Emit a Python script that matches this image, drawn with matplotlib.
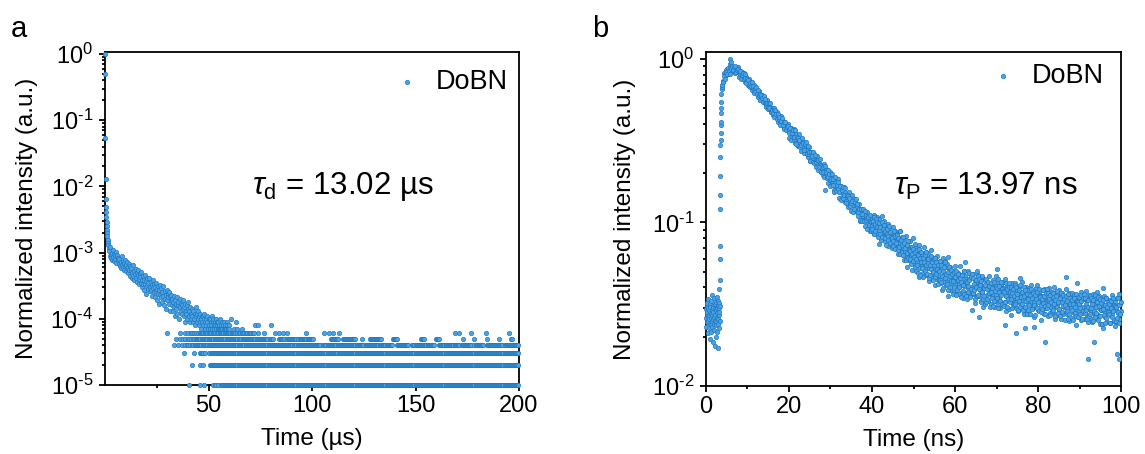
import numpy as np
import matplotlib
matplotlib.use("Agg")
import matplotlib.pyplot as plt
from matplotlib.ticker import FixedLocator, LogLocator, NullFormatter, FuncFormatter

plt.rcParams["font.family"] = ["Liberation Sans", "DejaVu Sans"]
plt.rcParams["mathtext.fontset"] = "custom"
plt.rcParams["mathtext.rm"] = "Liberation Sans"
plt.rcParams["mathtext.it"] = "Liberation Sans:italic"
plt.rcParams["mathtext.bf"] = "Liberation Sans:bold"

FACE = "#4ba2e4"
EDGE = "#1c74bd"

# ===================== panel a : delayed decay (1 count = 1e-5) =====================
a_head_time = [0.0, 0.1, 0.2, 0.3, 0.4, 0.5, 0.6, 0.7, 0.8, 0.9, 1.0, 1.1, 1.2,
               1.35, 1.5, 1.65, 1.8]
a_head_counts = [100000, 50000, 5400, 1300, 650, 490, 410, 340, 290, 250, 220,
                 195, 175, 155, 140, 128, 118]

# channels from 2.0 us, every 0.25 us
a_band_start = 2.0
a_band_step = 0.25
a_band_counts = [
    105, 88, 120, 92, 84, 99, 78, 110, 86, 95, 74, 90, 81, 102, 70, 87, 93, 76, 84, 68,
    80, 62, 71, 58, 88, 66, 60, 74, 55, 69, 63, 77, 52, 66, 58, 72, 49, 61, 67, 54,
    63, 45, 52, 58, 41, 49, 66, 44, 53, 39, 47, 57, 42, 50, 36, 46, 54, 40, 33, 48,
    43, 35, 51, 38, 30, 44, 34, 39, 27, 46, 33, 37, 24, 41, 31, 35, 28, 42, 30, 26,
    36, 27, 32, 22, 38, 29, 25, 33, 21, 30, 26, 35, 19, 28, 31, 24, 27, 17, 32, 23,
    29, 21, 25, 18, 31, 22, 16, 26, 20, 23, 14, 27, 19, 24, 21, 17, 25, 13, 22, 19,
    23, 16, 20, 13, 18, 22, 15, 11, 19, 17, 14, 21, 12, 16, 18, 10, 15, 20, 13, 17,
    16, 12, 19, 14, 11, 15, 9, 17, 13, 12, 16, 10, 14, 18, 11, 13, 9, 15, 12, 10,
    14, 11, 9, 13, 10, 12, 8, 15, 11, 9, 12, 10, 13, 8, 11, 9, 12, 10, 7, 11,
    9, 11, 8, 10, 12, 9, 7, 10, 8, 11, 9, 7, 10, 8, 10, 7, 9, 8, 11, 7,
    9, 10, 8, 7, 9, 8, 7, 10, 8, 9, 7, 9, 7, 8, 10, 7, 8, 7, 9, 7,
    8, 7, 9, 7, 8, 7, 7, 9, 8, 7, 7, 8, 7,
]

a_extra_time = [61.0, 62.5, 63.5, 64.0, 66.0, 72.5, 74.0, 80.0]
a_extra_counts = [10, 7, 9, 7, 7, 8, 8, 8]

# low count levels: one character per 0.5 us channel from 20 us ("1" = point present)
a_mask_start = 20.0
a_mask_step = 0.5
a_levels = [1, 2, 3, 4, 5, 6]
a_mask_1 = ("0000000000 0000000000 0000000000 0000000000"
            "0100000000 0010001000 0000101101 0011111111"
            "1111111111 1111111111 1111111111 1111111111"
            "1111111111 1111111111 1111111111 1111111111"
            "1111111111 1111111111 1111111111 1111111111"
            "1111111111 1111111111 1111111111 1111111111"
            "1111111111 1111111111 1111111111 1111111111"
            "1111111111 1111111111 1111111111 1111111111"
            "1111111111 1111111111 1111111111 1111111111")
a_mask_2 = ("0000000000 0000000000 0000000000 0000000000"
            "0000100000 0010010000 0111111111 1111111111"
            "1111111111 1111111111 1111111111 1111111111"
            "1111111111 1111111111 1111111111 1111111111"
            "1111111111 1111111111 1111111111 1111111111"
            "1111111111 1111111111 1111111111 1111111111"
            "1111111111 1111111111 1111111111 1111111111"
            "1111111111 1111111111 1111111111 1111111111"
            "1111111111 1111111111 1111111111 1111111111")
a_mask_3 = ("0000000000 0000000000 0000000000 0000001000"
            "0000001000 0011110100 1011111111 1111111111"
            "1111111111 1111111111 1111111111 1111111111"
            "1111111111 1111111111 1111111111 1111111111"
            "1111111111 1111111111 1111101111 1111111111"
            "1111111111 1111111111 1111111111 1111111111"
            "1111111111 1111111111 1111111111 1111111111"
            "1111111111 1111111111 1111111111 1111111111"
            "1111111111 1111111111 1111111111 1111111111")
a_mask_4 = ("0000000000 0000000000 0000000100 0100100101"
            "1010110111 1111011111 1111111111 1111111111"
            "1111111111 1111101111 1111111111 1111111111"
            "1111111111 1111111111 1101111111 1111111111"
            "1111111110 0111111111 1111011111 1111111111"
            "1111111111 0011111111 1111101111 1111111100"
            "0011111111 1111000111 1111111111 1011111110"
            "0001111111 1111111011 1110011111 1111100111"
            "1111110001 1111111111 1111101111 1111111111")
a_mask_5 = ("0000000000 0000000000 0000000001 0010010100"
            "1101011011 1110111111 1111101111 1111111011"
            "1111111111 1101111111 1111110111 1111111101"
            "1110000011 1111001111 1111111011 1111101111"
            "1100000000 0000000011 1111110000 1111111111"
            "1110000010 0000001111 1111111100 0000000011"
            "1110000000 0000000000 0000011110 0000000000"
            "1111000000 0000000000 0000001000 0000000100"
            "0000000001 0000000000 0100000000 0011000000")
a_mask_6 = ("0000000000 0000000000 1000000000 0010000100"
            "1001101010 1011110111 1110111011 0111101111"
            "1101111011 1011101101 1101100010 0000100000"
            "0000100010 0010001000 0000000000 0000100000"
            "0000000000 0010001000 1000001000 0000000000"
            "0000000000 0000000000 0000000000 0000000000"
            "0000000000 0000000000 0000000000 0000000000"
            "0000000000 0000000010 0010000000 0000100000"
            "0000000010 0000000000 0000000000 1000000000")
a_masks = [a_mask_1, a_mask_2, a_mask_3, a_mask_4, a_mask_5, a_mask_6]

# ===================== panel b : prompt decay (1 unit = 1e-4) =====================
b_base_start = 0.0
b_base_step = 0.05
b_base_vals = [
    260, 295, 230, 310, 275, 245, 320, 285, 210, 265,
    300, 250, 340, 270, 225, 290, 255, 315, 240, 280,
    195, 305, 260, 235, 330, 275, 215, 290, 250, 360,
    270, 230, 310, 185, 285, 255, 300, 240, 345, 265,
    220, 295, 250, 175, 315, 270, 200, 325, 245, 290,
    235, 350, 260, 300, 215, 280, 170, 310, 255, 330,
    240, 300, 270, 225, 320, 285, 250, 310,
]

b_edge_time = [3.25, 3.28, 3.31, 3.34, 3.37, 3.40, 3.42, 3.45, 3.47, 3.50, 3.52,
               3.55, 3.57, 3.60, 3.63, 3.67, 3.72, 3.78, 3.85, 3.92, 5.80, 5.86, 5.93]
b_edge_vals = [394, 447, 598, 717, 1200, 1460, 1930, 2500, 2970, 3180, 3500,
               3940, 4130, 4670, 5000, 5470, 6100, 6500, 6700, 6900, 9300, 10000, 9500]

# 4.0 - 39.8 ns, every 0.2 ns
b_decay1a_start = 4.0
b_decay1a_vals = [
    7330, 7230, 8220, 7950, 7910, 8600, 8450, 8040, 8760, 8450,
    9070, 8370, 8700, 8960, 8260, 8750, 8500, 8910, 8280, 8900,
    7720, 8400, 8020, 8360, 7600, 7880, 8160, 7200, 7740, 7220,
    7330, 6870, 7570, 6880, 7170, 6400, 6830, 6600, 6870, 6240,
    6260, 6480, 6220, 5830, 6350, 5560, 5970, 5610, 5970, 5610,
    5770, 5350, 5090, 5460, 5570, 5130, 4920, 5100, 4720, 4990,
    4930, 4530, 5000, 4600, 4410, 4700, 4480, 4110, 4450, 4180,
    4450, 3980, 4100, 4180, 3770, 3990, 3830, 4020, 3670, 3990,
    3280, 3770, 3520, 3780, 3270, 3500, 3710, 3070, 3460, 3130,
    3230, 2940, 3460, 3000, 3220, 2720, 3040, 2900, 3120, 2700,
    2740, 2910, 2760, 2510, 2880, 2360, 2670, 2440, 2700, 2480,
    2600, 2330, 2170, 2440, 2540, 2260, 2130, 2270, 2020, 2230,
    2200, 1940, 2280, 2020, 1900, 2120, 1980, 1740, 1990, 1820,
    2040, 1690, 1800, 1900, 1570, 1780, 1670, 1830, 1570, 1850,
    1410, 1660, 1540, 1680, 1420, 1540, 1650, 1330, 1530, 1360,
    1420, 1270, 1540, 1320, 1440, 1170, 1340, 1280, 1390, 1180,
    1210, 1300, 1220, 1100, 1290, 1020, 1180, 1070, 1210, 1100,
    1180, 1030, 950, 1090, 1150, 1010, 935, 1020, 890, 1010,
]
# 4.1 - 39.9 ns, every 0.2 ns
b_decay1b_start = 4.1
b_decay1b_vals = [
    7230, 7890, 7550, 8490, 8300, 8070, 8780, 8450, 8760, 8110,
    8660, 9060, 8490, 8850, 8200, 9040, 8270, 8570, 8690, 8250,
    8080, 8380, 7540, 8010, 8180, 7480, 7600, 8030, 7090, 7500,
    7400, 6800, 7150, 6710, 6800, 7180, 6850, 6210, 6350, 6660,
    6750, 6050, 6440, 5970, 6050, 5560, 6010, 5730, 5410, 5890,
    5330, 5710, 5330, 5370, 4900, 5330, 4980, 5330, 4700, 4880,
    4680, 4880, 4420, 4870, 4590, 4310, 4620, 4310, 4410, 3940,
    4180, 4330, 3960, 4100, 3710, 4120, 3690, 3830, 3890, 3650,
    3530, 3760, 3200, 3540, 3690, 3230, 3330, 3650, 3030, 3340,
    3300, 2910, 3170, 2890, 2990, 3280, 3070, 2650, 2770, 3010,
    3090, 2620, 2920, 2610, 2690, 2370, 2710, 2530, 2330, 2680,
    2310, 2590, 2350, 2390, 2080, 2400, 2170, 2440, 2020, 2160,
    2030, 2190, 1890, 2210, 2030, 1860, 2080, 1890, 1970, 1660,
    1840, 1980, 1700, 1830, 1540, 1900, 1560, 1690, 1760, 1590,
    1540, 1660, 1380, 1570, 1640, 1400, 1460, 1630, 1310, 1480,
    1450, 1250, 1400, 1260, 1310, 1460, 1360, 1150, 1210, 1340,
    1390, 1150, 1300, 1150, 1200, 1030, 1210, 1120, 1020, 1210,
    1020, 1170, 1040, 1070, 910, 1080, 960, 1110, 890, 970,
]
b_decay1_step = 0.2

# 40.0 - 100.0 ns, every 0.15 ns
b_decay2a_start = 40.0
b_decay2a_vals = [
    1048, 892, 989, 844, 1116, 941, 1019, 873, 1077, 912,
    865, 1051, 911, 986, 791, 958, 1088, 846, 921, 1014,
    905, 766, 966, 835, 879, 722, 983, 922, 800, 853,
    770, 867, 729, 932, 802, 842, 705, 891, 761, 818,
    840, 728, 645, 795, 683, 885, 750, 668, 810, 720,
    630, 798, 588, 742, 672, 826, 616, 721, 651, 770,
    585, 767, 631, 709, 514, 676, 806, 566, 644, 735,
    641, 506, 702, 573, 616, 464, 726, 659, 543, 592,
    539, 638, 493, 708, 568, 615, 476, 661, 528, 592,
    638, 523, 436, 594, 474, 681, 545, 458, 605, 512,
    551, 417, 597, 489, 623, 453, 530, 474, 443, 577,
    510, 426, 554, 387, 608, 475, 441, 578, 485, 534,
    437, 553, 353, 502, 451, 535, 386, 488, 470, 414,
    507, 378, 454, 414, 543, 365, 472, 436, 490, 405,
    363, 471, 540, 415, 376, 480, 346, 505, 406, 432,
    470, 370, 433, 340, 508, 399, 449, 361, 487, 386,
    404, 461, 367, 481, 396, 445, 322, 424, 506, 355,
    474, 430, 354, 386, 418, 330, 458, 374, 402, 302,
    411, 318, 442, 353, 396, 361, 427, 330, 473, 380,
    378, 318, 420, 355, 442, 363, 302, 412, 329, 473,
    352, 429, 318, 448, 340, 381, 300, 414, 326, 396,
    430, 317, 397, 328, 451, 353, 288, 411, 379, 360,
    297, 376, 412, 272, 362, 426, 337, 319, 387, 347,
    429, 327, 299, 387, 345, 289, 401, 373, 320, 359,
    332, 433, 301, 377, 277, 384, 346, 291, 405, 325,
    351, 293, 396, 276, 365, 314, 413, 324, 300, 382,
    265, 349, 326, 396, 302, 417, 292, 366, 333, 380,
    381, 311, 252, 357, 334, 295, 394, 275, 348, 321,
    298, 373, 334, 268, 399, 320, 278, 360, 304, 347,
    352, 281, 404, 304, 258, 378, 310, 359, 271, 323,
    293, 386, 281, 357, 258, 329, 370, 274, 341, 303,
    356, 284, 391, 306, 274, 328, 249, 372, 312, 343,
    303, 371, 259, 328, 278, 359, 315, 237, 337, 293,
    315, 263, 352, 287, 328, 253, 377, 281, 303, 340,
    288, 340, 257, 383, 306, 266, 334, 245, 358, 294,
    351, 261, 288, 324, 245, 367, 279, 312, 267, 339,
    262, 328, 373, 271, 298, 355, 238, 313, 292, 340,
    322, 226, 301, 355, 265, 280, 343, 247, 313, 289,
    289, 325, 242, 336, 268, 360, 274, 313, 251, 301,
    325, 234, 293, 343, 246, 281, 366, 255, 319, 275,
    287,
]
# 40.075 - 99.925 ns, every 0.15 ns
b_decay2b_start = 40.075
b_decay2b_vals = [
    910, 1025, 852, 1082, 982, 881, 1054, 938, 1010, 816,
    900, 995, 846, 941, 779, 1008, 819, 914, 968, 873,
    802, 890, 727, 853, 916, 777, 827, 953, 752, 878,
    815, 698, 803, 722, 768, 885, 827, 686, 745, 850,
    834, 682, 801, 703, 747, 638, 779, 725, 660, 812,
    629, 751, 670, 700, 589, 731, 650, 771, 609, 680,
    597, 673, 559, 710, 644, 578, 691, 616, 663, 536,
    595, 678, 547, 631, 488, 690, 524, 607, 655, 571,
    528, 607, 461, 573, 629, 506, 551, 663, 483, 596,
    562, 456, 551, 477, 519, 625, 572, 445, 498, 594,
    602, 462, 572, 482, 522, 422, 552, 502, 442, 582,
    435, 550, 473, 502, 397, 531, 454, 569, 416, 483,
    423, 496, 387, 532, 469, 405, 514, 441, 487, 364,
    438, 499, 403, 464, 359, 508, 385, 447, 482, 420,
    400, 460, 349, 435, 477, 383, 417, 503, 366, 452,
    439, 356, 431, 373, 406, 489, 447, 348, 389, 464,
    484, 371, 459, 387, 419, 339, 443, 403, 355, 467,
    358, 452, 389, 413, 326, 436, 373, 468, 342, 397,
    356, 417, 326, 448, 394, 341, 433, 372, 410, 306,
    374, 426, 344, 396, 307, 434, 329, 381, 411, 359,
    345, 396, 301, 374, 411, 330, 360, 433, 316, 389,
    383, 310, 375, 325, 354, 426, 390, 303, 339, 404,
    426, 327, 405, 341, 369, 298, 391, 355, 312, 412,
    318, 401, 346, 366, 290, 387, 332, 415, 304, 352,
    319, 374, 292, 401, 353, 305, 388, 333, 367, 274,
    338, 385, 311, 358, 277, 392, 297, 345, 372, 324,
    313, 360, 273, 340, 373, 300, 326, 393, 286, 353,
    349, 283, 342, 296, 322, 388, 355, 276, 309, 368,
    390, 299, 371, 312, 338, 273, 358, 325, 286, 377,
    292, 369, 318, 337, 266, 356, 305, 382, 279, 324,
    295, 346, 269, 371, 327, 282, 358, 307, 339, 254,
    313, 357, 288, 332, 257, 363, 275, 319, 344, 300,
    291, 335, 254, 316, 347, 279, 304, 366, 267, 329,
    325, 264, 319, 276, 301, 362, 332, 258, 289, 344,
    365, 280, 347, 292, 316, 255, 334, 304, 268, 353,
    275, 347, 299, 317, 251, 335, 287, 359, 263, 305,
    278, 326, 254, 350, 308, 266, 338, 290, 320, 239,
    296, 337, 272, 314, 243, 343, 260, 302, 326, 284,
    276, 318, 241, 300, 329, 265, 288, 347, 253, 312,
    308, 250, 303, 262, 285, 343, 314, 244, 274, 326,
]
b_decay2_step = 0.15

b_out_time = [28.7, 41.6, 46.8, 48.4, 51.5, 58.3, 62.4, 64.1, 65.8, 70.0, 72.0,
              74.7, 75.6, 76.8, 79.0, 81.7, 86.7, 89.4, 92.1, 93.6, 95.7, 99.1, 99.6]
b_out_vals = [1570, 735, 890, 537, 475, 618, 570, 292, 265, 520, 236,
              211, 455, 225, 231, 187, 465, 425, 146, 187, 395, 156, 146]


def channels(start, step, vals):
    return start + step * np.arange(len(vals))


def pow10(v, pos):
    e = int(round(np.log10(v)))
    if e < 0:
        return r"$10^{\text{-}%d}$" % -e
    return r"$10^{%d}$" % e


def style(ax):
    for s in ax.spines.values():
        s.set_linewidth(1.3)
    ax.tick_params(which="both", direction="out", width=1.3, labelsize=17,
                   top=False, right=False)
    ax.tick_params(which="major", length=4.5)
    ax.tick_params(axis="x", which="major", pad=3)
    ax.tick_params(axis="y", which="major", pad=4)
    ax.tick_params(which="minor", length=2.2)
    ax.yaxis.set_minor_locator(LogLocator(base=10, subs=np.arange(2, 10)))
    ax.yaxis.set_minor_formatter(NullFormatter())
    ax.yaxis.set_major_formatter(FuncFormatter(pow10))


dot = dict(s=10, c=FACE, edgecolors=EDGE, linewidths=0.45, clip_on=False, zorder=3)

fig = plt.figure(figsize=(11.45, 4.54), dpi=100)
ax1 = fig.add_axes([105 / 1145, 1 - 385 / 454, 414 / 1145, 333 / 454])
ax2 = fig.add_axes([706 / 1145, 1 - 386 / 454, 415 / 1145, 334 / 454])

# ---- panel a ----
ax1.set_yscale("log")
h1 = ax1.scatter(a_head_time, np.array(a_head_counts) * 1e-5, label="DoBN", **dot)
ax1.scatter(channels(a_band_start, a_band_step, a_band_counts),
            np.array(a_band_counts) * 1e-5, **dot)
ax1.scatter(a_extra_time, np.array(a_extra_counts) * 1e-5, **dot)
for level, mask in zip(a_levels, a_masks):
    on = np.array([c == "1" for c in mask.replace(" ", "")])
    t = a_mask_start + a_mask_step * np.arange(on.size)
    ax1.scatter(t[on], np.full(on.sum(), level * 1e-5), **dot)

ax1.set_xlim(0, 200)
ax1.set_ylim(1e-5, 1.07)
ax1.xaxis.set_major_locator(FixedLocator([50, 100, 150, 200]))
ax1.xaxis.set_minor_locator(FixedLocator([25, 75, 125, 175]))
ax1.yaxis.set_major_locator(FixedLocator([1e-5, 1e-4, 1e-3, 1e-2, 1e-1, 1]))
style(ax1)
ax1.set_xlabel("Time (µs)", fontsize=17.5)
ax1.set_ylabel("Normalized intensity (a.u.)", fontsize=17.5)
ax1.xaxis.set_label_coords(0.5, -0.13)
ax1.yaxis.set_label_coords(-0.162, 0.5)
ax1.text(0.355, 0.595, r"$\tau_{\mathrm{d}}$ = 13.02 µs", fontsize=22.5,
         transform=ax1.transAxes, va="center", ha="left")
ax1.legend(handles=[h1], loc="upper right", bbox_to_anchor=(0.972, 0.95),
           frameon=False, fontsize=19.5, handlelength=0.6, handletextpad=0.75,
           borderpad=0, borderaxespad=0, scatterpoints=1)

# ---- panel b ----
ax2.set_yscale("log")
h2 = ax2.scatter(channels(b_base_start, b_base_step, b_base_vals),
                 np.array(b_base_vals) * 1e-4, label="DoBN", **dot)
ax2.scatter(b_edge_time, np.array(b_edge_vals) * 1e-4, **dot)
for start, step, vals in [(b_decay1a_start, b_decay1_step, b_decay1a_vals),
                          (b_decay1b_start, b_decay1_step, b_decay1b_vals),
                          (b_decay2a_start, b_decay2_step, b_decay2a_vals),
                          (b_decay2b_start, b_decay2_step, b_decay2b_vals)]:
    ax2.scatter(channels(start, step, vals), np.array(vals) * 1e-4, **dot)
ax2.scatter(b_out_time, np.array(b_out_vals) * 1e-4, **dot)

ax2.set_xlim(0, 100)
ax2.set_ylim(0.01, 1.1)
ax2.xaxis.set_major_locator(FixedLocator([0, 20, 40, 60, 80, 100]))
ax2.xaxis.set_minor_locator(FixedLocator([10, 30, 50, 70, 90]))
ax2.yaxis.set_major_locator(FixedLocator([1e-2, 1e-1, 1]))
style(ax2)
ax2.set_xlabel("Time (ns)", fontsize=17.5)
ax2.set_ylabel("Normalized intensity (a.u.)", fontsize=17.5)
ax2.xaxis.set_label_coords(0.5, -0.13)
ax2.yaxis.set_label_coords(-0.169, 0.5)
ax2.text(0.454, 0.596, r"$\tau_{\mathrm{P}}$ = 13.97 ns", fontsize=22.5,
         transform=ax2.transAxes, va="center", ha="left")
ax2.legend(handles=[h2], loc="upper right", bbox_to_anchor=(0.958, 0.967),
           frameon=False, fontsize=19.5, handlelength=0.6, handletextpad=0.75,
           borderpad=0, borderaxespad=0, scatterpoints=1)

fig.text(11 / 1145, 1 - 37 / 454, "a", fontsize=21, va="baseline")
fig.text(592 / 1145, 1 - 37 / 454, "b", fontsize=21, va="baseline")

fig.savefig("out.png", dpi=100)
